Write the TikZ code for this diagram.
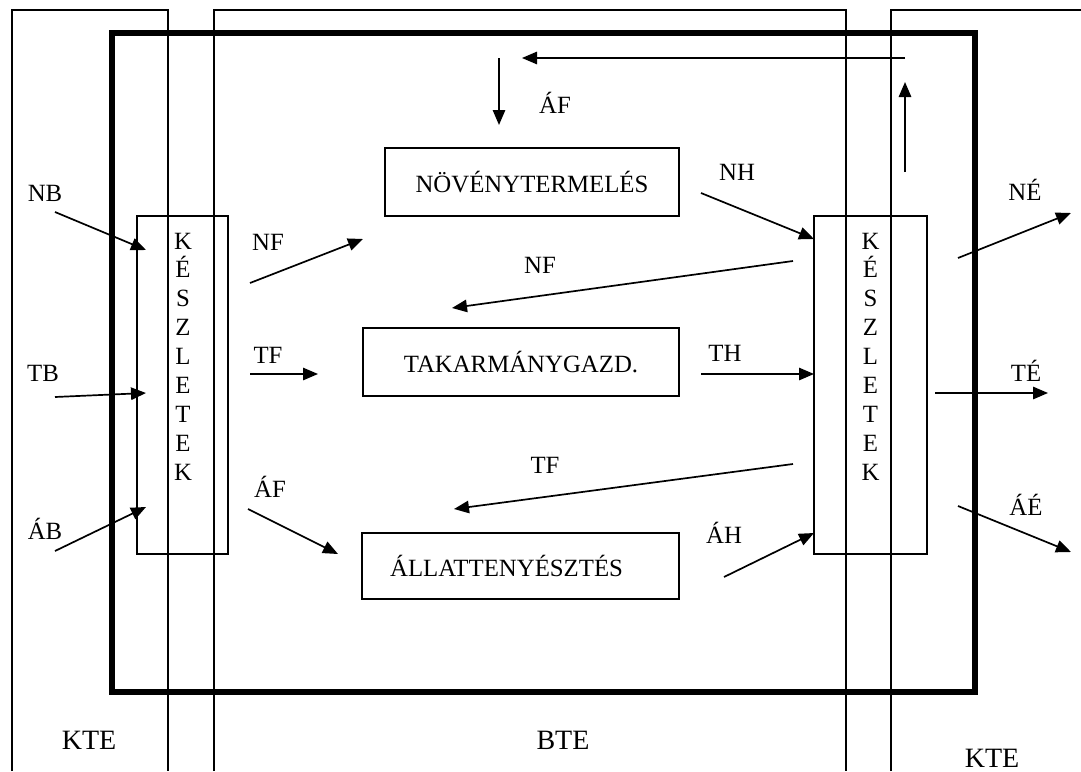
\documentclass[tikz,border=0pt]{standalone}
\usepackage{fontspec}
\setmainfont{Liberation Serif}
\usetikzlibrary{arrows.meta}
\begin{document}
\begin{tikzpicture}[x=0.5pt,y=-0.5pt,
  zone/.style={line width=0.6pt},
  frame/.style={line width=2.6pt},
  flow/.style={line width=0.85pt,-{Triangle[length=7.5pt,width=6.2pt]}},
  proc/.style={draw,line width=0.7pt,inner sep=0pt,font=\fontsize{12.4}{14}\selectfont},
  stock/.style={draw,line width=0.7pt,inner sep=0pt},
  letters/.style={align=center,inner sep=0pt,font=\fontsize{12.4}{14.45}\selectfont},
  lbl/.style={inner sep=0pt,font=\fontsize{12.4}{14}\selectfont},
  biglbl/.style={inner sep=0pt,font=\fontsize{14}{16}\selectfont}]
\useasboundingbox (0,0) rectangle (1081,771);
% zones (open at the bottom)
\draw[zone] (12,771) -- (12,10) -- (168,10) -- (168,771);
\draw[zone] (214,771) -- (214,10) -- (846,10) -- (846,771);
\draw[zone] (891,771) -- (891,10) -- (1081,10);
% farm boundary
\draw[frame] (112,33) rectangle (975,692);
% stock boxes
\node[stock,minimum width=45.5pt,minimum height=169pt] (kl) at (182.5,385) {};
\node[stock,minimum width=56.5pt,minimum height=169pt] (kr) at (870.5,385) {};
\node[letters] (klt) at (183,356.5) {K\\É\\S\\Z\\L\\E\\T\\E\\K};
\node[letters] (krt) at (870.5,356.5) {K\\É\\S\\Z\\L\\E\\T\\E\\K};
% process boxes
\node[proc,minimum width=147pt,minimum height=34pt] (nov) at (532,182) {NÖVÉNYTERMELÉS};
\node[proc,minimum width=158pt,minimum height=34pt] (tak) at (521,362) {TAKARMÁNYGAZD.};
\node[proc,minimum width=158.5pt,minimum height=33pt] (all) at (520.5,566) {ÁLLATTENYÉSZTÉS\hspace*{14pt}};
% coordinates of free ends
\coordinate (nbS) at (55,212);  \coordinate (nbE) at (146,250);
\coordinate (tbS) at (55,397);  \coordinate (tbE) at (146,393);
\coordinate (abS) at (55,551);  \coordinate (abE) at (146,507);
\coordinate (nfS) at (250,283); \coordinate (nfE) at (363,239);
\coordinate (tfS) at (250,374); \coordinate (tfE) at (318,374);
\coordinate (afS) at (248,509); \coordinate (afE) at (338,554);
\coordinate (aftS) at (499,58); \coordinate (aftE) at (499,125);
\coordinate (topR) at (905,58); \coordinate (topE) at (522,58);
\coordinate (upS) at (905,172); \coordinate (upE) at (905,82);
\coordinate (nhS) at (701,193); \coordinate (nhE) at (814,239);
\coordinate (nf2S) at (793,261); \coordinate (nf2E) at (452,308);
\coordinate (thS) at (701,374); \coordinate (thE) at (814,374);
\coordinate (tf2S) at (793,464); \coordinate (tf2E) at (454,509);
\coordinate (ahS) at (724,577); \coordinate (ahE) at (814,533);
\coordinate (neS) at (958,258); \coordinate (neE) at (1071,213);
\coordinate (teS) at (935,393); \coordinate (teE) at (1048,393);
\coordinate (aeS) at (958,506); \coordinate (aeE) at (1071,552);
% flows
\draw[flow] (nbS) -- (nbE);
\draw[flow] (tbS) -- (tbE);
\draw[flow] (abS) -- (abE);
\draw[flow] (nfS) -- (nfE);
\draw[flow] (tfS) -- (tfE);
\draw[flow] (afS) -- (afE);
\draw[flow] (aftS) -- (aftE);
\draw[flow] (topR) -- (topE);
\draw[flow] (upS) -- (upE);
\draw[flow] (nhS) -- (nhE);
\draw[flow] (nf2S) -- (nf2E);
\draw[flow] (thS) -- (thE);
\draw[flow] (tf2S) -- (tf2E);
\draw[flow] (ahS) -- (ahE);
\draw[flow] (neS) -- (neE);
\draw[flow] (teS) -- (teE);
\draw[flow] (aeS) -- (aeE);
% labels
\node[lbl] (lNB) at (45,193) {NB};
\node[lbl] (lTB) at (43,373) {TB};
\node[lbl] (lAB) at (45,529) {ÁB};
\node[lbl] (lNF) at (268,242) {NF};
\node[lbl] (lTF) at (268,355) {TF};
\node[lbl] (lAF) at (270,487) {ÁF};
\node[lbl] (lAFt) at (555,103) {ÁF};
\node[lbl] (lNH) at (737,172) {NH};
\node[lbl] (lNF2) at (540,265) {NF};
\node[lbl] (lTH) at (725,353) {TH};
\node[lbl] (lTF2) at (545,465) {TF};
\node[lbl] (lAH) at (724,533) {ÁH};
\node[lbl] (lNE) at (1025,190) {NÉ};
\node[lbl] (lTE) at (1026,371) {TÉ};
\node[lbl] (lAE) at (1026,505) {ÁÉ};
\node[biglbl] (kte1) at (89,740) {KTE};
\node[biglbl] (bte) at (563,740) {BTE};
\node[biglbl] (kte2) at (992,758) {KTE};
\end{tikzpicture}
\end{document}
